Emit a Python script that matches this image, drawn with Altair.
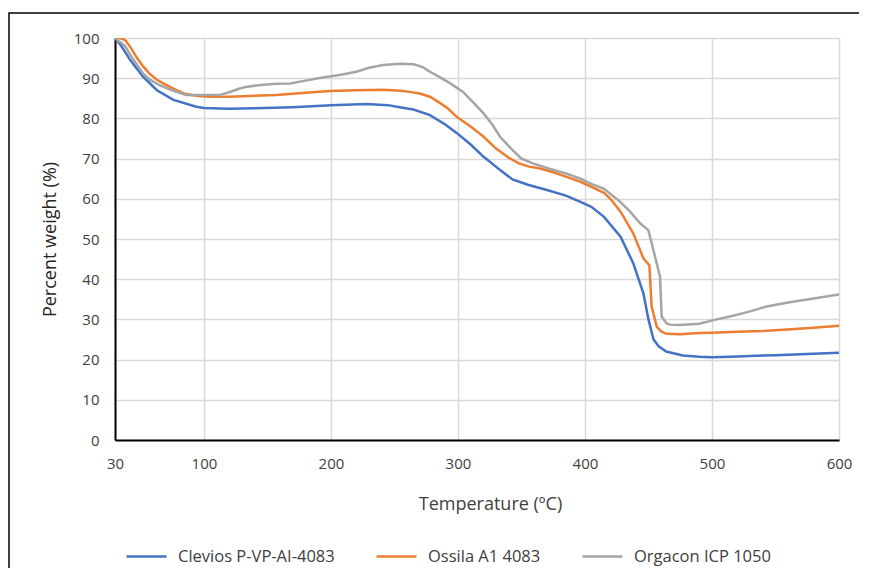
import altair as alt
import pandas as pd

series_names = ["Clevios P-VP-AI-4083", "Ossila A1 4083", "Orgacon ICP 1050"]
series_colors = ["#4472C4", "#ED7D31", "#A5A5A5"]

clevios_t = [30, 35, 42, 52, 63, 76, 94, 100, 120, 140, 170, 200, 228, 245, 254, 265, 278, 290,
             299, 310, 320, 333, 343, 355, 370, 385, 396, 405, 415, 428, 438, 446, 450, 454, 458,
             464, 477, 490, 500, 515, 530, 550, 575, 600]
clevios_w = [100, 98, 94.5, 90.4, 87, 84.6, 82.9, 82.6, 82.4, 82.5, 82.8, 83.3, 83.6, 83.3, 82.8, 82.2,
             80.8, 78.5, 76.4, 73.5, 70.5, 67.2, 64.8, 63.5, 62.2, 60.8, 59.3, 58, 55.5, 50.6, 44,
             36.5, 30, 25, 23.3, 22, 21, 20.7, 20.6, 20.7, 20.9, 21.1, 21.4, 21.7]

ossila_t = [30, 34, 38, 42, 47, 52, 57, 63, 68, 76, 84, 95, 105, 120, 136, 157, 180, 199, 220, 241, 255,
            262, 270, 278, 285, 292, 299, 310, 320, 330, 340, 348, 356, 364, 375, 385, 396, 405, 415, 420,
            428, 438, 446, 450.7, 452.5, 456.5, 460, 464, 475, 490, 500, 520, 540, 556, 580, 600]
ossila_w = [100, 100, 99.5, 97.8, 95.2, 93, 91.2, 89.6, 88.7, 87.4, 86.2, 85.6, 85.4, 85.4, 85.6, 85.8,
            86.4, 86.8, 87, 87.1, 86.9, 86.6, 86.2, 85.4, 84, 82.5, 80.4, 78, 75.5, 72.5, 70.2, 68.8, 68,
            67.6, 66.6, 65.5, 64.3, 63, 61.5, 60, 56.8, 51.4, 45.2, 43.5, 33.2, 28.2, 27, 26.4, 26.3,
            26.6, 26.7, 26.9, 27.1, 27.4, 27.9, 28.4]

orgacon_t = [30, 34, 38, 42, 47, 52, 58, 65, 75, 86, 99, 112, 120, 127, 134, 145, 157, 168, 180, 190,
             199, 210, 220, 230, 241, 255, 265, 272, 278, 286, 294, 304, 312, 320, 327, 333, 343, 350, 359,
             372, 385, 396, 405, 415, 427.6, 435.5, 443.4, 449.9, 455.2, 459.1, 460.4, 464.3, 467, 475,
             490, 503.6, 515, 530, 543, 560, 580, 600]
orgacon_w = [100, 99, 98, 95.8, 93.5, 91.2, 89.5, 88.3, 87, 85.8, 85.8, 85.8, 86.5, 87.3, 87.9,
             88.3, 88.6, 88.7, 89.4, 90, 90.4, 91, 91.6, 92.6, 93.3, 93.6, 93.5, 92.8, 91.6, 90.2, 88.7,
             86.6, 84, 81.3, 78.5, 75.5, 72.1, 70, 68.8, 67.5, 66.3, 65.1, 63.7, 62.5, 59.3, 56.8, 53.9,
             52.2, 45.6, 40.6, 30.7, 29, 28.7, 28.6, 28.9, 30, 30.8, 32, 33.2, 34.2, 35.2, 36.2]

x_ticks = [30, 100, 200, 300, 400, 500, 600]
y_ticks = [0, 10, 20, 30, 40, 50, 60, 70, 80, 90, 100]

rows = []
for name, ts, ws in zip(series_names, [clevios_t, ossila_t, orgacon_t], [clevios_w, ossila_w, orgacon_w]):
    for i, (t, w) in enumerate(zip(ts, ws)):
        rows.append({"series": name, "T": t, "w": w, "order": i})
df = pd.DataFrame(rows)

FONT = "Open Sans"

lines = alt.Chart(df).mark_line(strokeWidth=2.5, clip=True).encode(
    x=alt.X("T:Q", scale=alt.Scale(domain=[30, 600], nice=False, zero=False),
            axis=alt.Axis(values=x_ticks, title="Temperature (ºC)", grid=True, ticks=False,
                          domainColor="#000000", domainWidth=2, gridColor="#D9D9D9", gridWidth=1.5,
                          labelFontSize=15, labelColor="#404040", labelPadding=16, labelFont=FONT,
                          labelFlush=False,
                          titleFont=FONT, titleFontSize=18, titleFontWeight="normal", titleColor="#404040",
                          titlePadding=24, titleX=375, titleAlign="center")),
    y=alt.Y("w:Q", scale=alt.Scale(domain=[0, 100], nice=False),
            axis=alt.Axis(values=y_ticks, title="Percent weight (%)", grid=True, ticks=False,
                          domainColor="#000000", domainWidth=2, gridColor="#D9D9D9", gridWidth=1.5,
                          labelFontSize=15, labelColor="#404040", labelPadding=16, labelFont=FONT,
                          titleFont=FONT, titleFontSize=18, titleFontWeight="normal", titleColor="#262626",
                          titlePadding=14)),
    color=alt.Color("series:N", sort=series_names,
                    scale=alt.Scale(domain=series_names, range=series_colors),
                    legend=alt.Legend(title=None, orient="none", legendX=10, legendY=497,
                                      direction="horizontal", symbolType="stroke", symbolSize=1600,
                                      symbolStrokeWidth=2.5, labelFont=FONT, labelFontSize=16.5,
                                      labelColor="#404040", labelOffset=10, columnPadding=36,
                                      labelLimit=300)),
    order="order:Q",
)

frame = alt.Chart(alt.Data(values=[{"a": 1}])).mark_rect(
    filled=False, stroke="#000000", strokeWidth=1.5, clip=False
).encode(x=alt.value(-106), x2=alt.value(800), y=alt.value(-25), y2=alt.value(700))

chart = alt.layer(frame, lines).properties(
    width=724, height=402,
    autosize=alt.AutoSizeParams(type="none"),
    padding={"left": 107, "top": 30, "right": 20, "bottom": 128},
).configure_view(stroke=None)

chart.save("out.html", embed_options={"renderer": "svg", "actions": False})
